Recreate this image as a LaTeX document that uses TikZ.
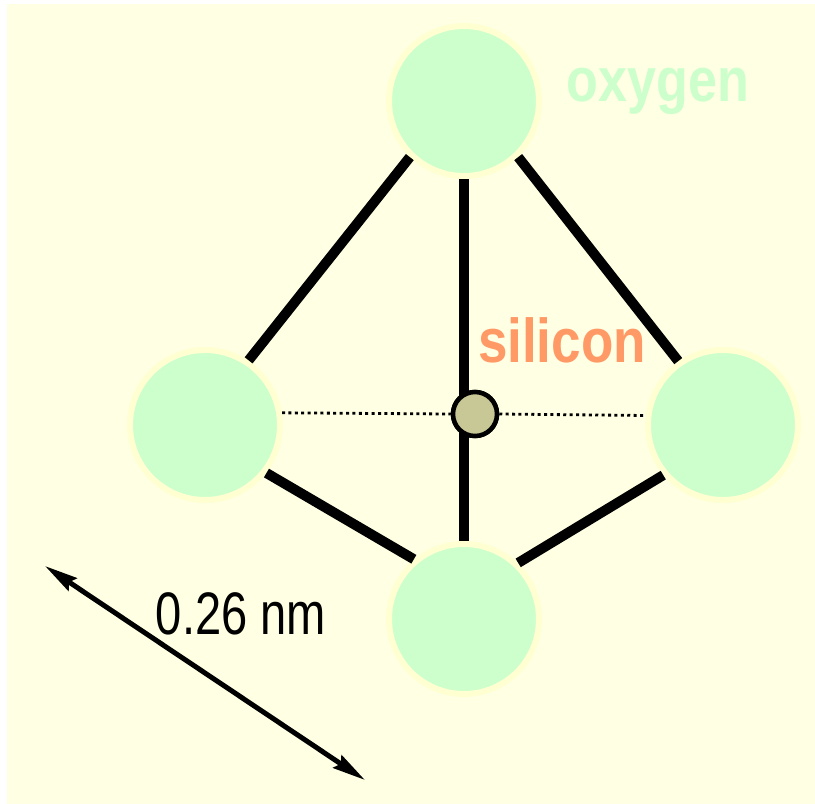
\documentclass[tikz,border=0pt]{standalone}
\usepackage{fontspec}
\setmainfont{Liberation Sans}
\usetikzlibrary{arrows.meta}
\definecolor{cream}{HTML}{FFFFE3}
\definecolor{ringc}{HTML}{FFFFD2}
\definecolor{oxy}{HTML}{CCFFCC}
\definecolor{sil}{HTML}{C8C896}
\definecolor{silt}{HTML}{FF9966}
\tikzset{
  oxygenatom/.style={circle,inner sep=0pt,minimum size=150pt,fill=oxy,draw=ringc,line width=6pt},
  siliconatom/.style={circle,inner sep=0pt,minimum size=44pt,fill=sil,draw=black,line width=4.5pt},
  bond/.style={line width=10pt,black},
  hidden/.style={line width=2.8pt,black,dash pattern=on 3pt off 3.4pt},
  measure/.style={line width=5pt,black,{Stealth[length=33pt,width=15pt,inset=4pt]}-{Stealth[length=33pt,width=15pt,inset=4pt]}},
  lbl/.style={inner sep=0pt,anchor=base}
}
\begin{document}
\begin{tikzpicture}[x=1pt,y=-1pt]
\useasboundingbox (0,0) rectangle (815,804);
\fill[white] (0,0) rectangle (815,804);
\fill[cream] (7,4) rectangle (815,804);
\node[oxygenatom] (top) at (464,101) {};
\node[oxygenatom] (left) at (205,425) {};
\node[oxygenatom] (right) at (723,425) {};
\node[oxygenatom] (bottom) at (464,619) {};
\coordinate (si) at (475,414);
\node[siliconatom] (sib) at (si) {};
\draw[bond] (top.south) -- (bottom.north);
\draw[bond] (top.226.5) -- (left.56.5);
\draw[bond] (top.-46.5) -- (right.125);
\draw[bond] (left.-38) -- (bottom.130);
\draw[bond] (right.220) -- (bottom.46.5);
\draw[hidden] (left.9.6) -- (sib.180);
\draw[hidden] (sib.0) -- (right.173.4);
\node[siliconatom] (sitop) at (si) {};
\coordinate (m1) at (45,566);
\coordinate (m2) at (365,780);
\draw[measure] (m1) -- (m2);
\node[lbl,text=oxy] (oxlab) at (658,101) {\bfseries\fontsize{62}{62}\selectfont\scalebox{.84}[1]{oxygen}};
\node[lbl,text=silt] (silab) at (562,362) {\bfseries\fontsize{62}{62}\selectfont\scalebox{.855}[1]{silicon}};
\node[lbl,text=black] (dist) at (241,634) {\fontsize{60}{60}\selectfont\scalebox{.785}[1]{0.26 nm}};
\end{tikzpicture}
\end{document}
